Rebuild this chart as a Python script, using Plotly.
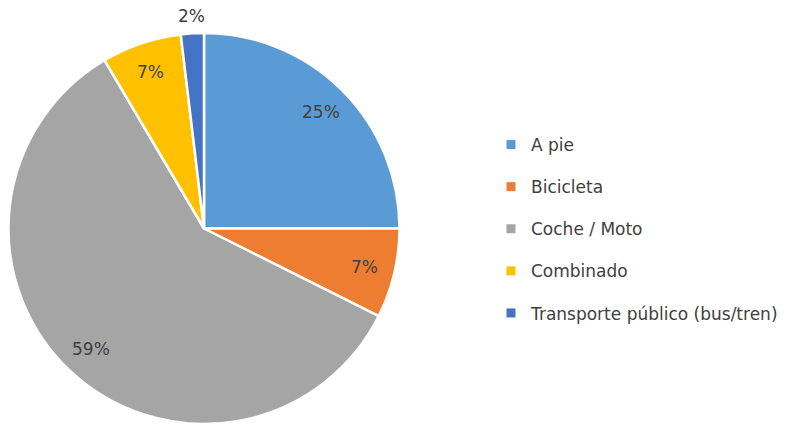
import math
import plotly.graph_objects as go

labels = ["A pie", "Bicicleta", "Coche / Moto", "Combinado", "Transporte público (bus/tren)"]
values = [25.0, 7.4, 59.1, 6.6, 1.9]
colors = ["#5B9BD5", "#ED7D31", "#A5A5A5", "#FFC000", "#4472C4"]
label_outside = [False, False, False, False, True]

W, H = 798, 424
FONT = "DejaVu Sans"
TXT = "#404040"

# pie geometry (pixels from top-left)
DOM_X = (8, 400)
DOM_Y_TOP, DOM_Y_BOT = 33, 424
cx = (DOM_X[0] + DOM_X[1]) / 2
R = min(DOM_X[1] - DOM_X[0], DOM_Y_BOT - DOM_Y_TOP) / 2
cy = DOM_Y_TOP + R
R_IN, R_OUT = 0.845, 1.09

fig = go.Figure()
fig.add_trace(go.Pie(
    labels=labels, values=values, sort=False, direction="clockwise", rotation=0,
    marker=dict(colors=colors, line=dict(color="white", width=2.5)),
    textinfo="none",
    showlegend=False, hoverinfo="label+percent",
    domain=dict(x=[DOM_X[0] / W, DOM_X[1] / W], y=[(H - DOM_Y_BOT) / H, (H - DOM_Y_TOP) / H]),
))

total = sum(values)
cum = 0.0
for v, out in zip(values, label_outside):
    mid = (cum + v / 2) / total
    cum += v
    th = 2 * math.pi * mid
    rr = R * (R_OUT if out else R_IN)
    px = cx + rr * math.sin(th)
    py = cy - rr * math.cos(th)
    fig.add_annotation(
        x=px / W, y=(H - py) / H, xref="paper", yref="paper",
        text=f"{round(100 * v / total)}%", showarrow=False,
        xanchor="center", yanchor="middle",
        font=dict(family=FONT, size=17, color=TXT),
    )

for lab, col in zip(labels, colors):
    fig.add_trace(go.Scatter(
        x=[None], y=[None], mode="markers", name=lab, legendgroup=lab,
        marker=dict(symbol="square", size=9, color=col),
        showlegend=True,
    ))

fig.update_layout(
    width=W, height=H, margin=dict(l=0, r=0, t=0, b=0),
    paper_bgcolor="white", plot_bgcolor="white",
    xaxis=dict(visible=False), yaxis=dict(visible=False),
    legend=dict(x=491 / W, y=(H - 229) / H, xanchor="left", yanchor="middle",
                font=dict(family=FONT, size=17, color=TXT),
                tracegroupgap=17, itemwidth=30),
)
fig.write_html("out.html", config={"displayModeBar": False},
               post_script="document.body.style.margin='0';")
